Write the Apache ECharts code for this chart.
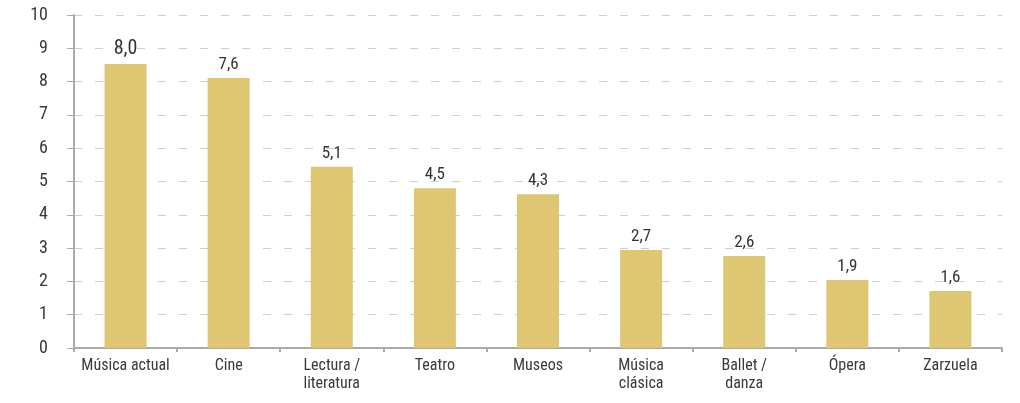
<!DOCTYPE html>
<html>
<head>
<meta charset="utf-8">
<script src="https://cdn.jsdelivr.net/npm/echarts@6/dist/echarts.min.js"></script>
<style>
  html, body { margin: 0; padding: 0; background: #fff; }
  #chart { width: 1020px; height: 403px; }
</style>
</head>
<body>
<div id="chart"></div>
<script>
// categorías
const categorias = ['Música actual', 'Cine', 'Lectura /\nliteratura', 'Teatro', 'Museos',
  'Música\nclásica', 'Ballet /\ndanza', 'Ópera', 'Zarzuela']
// altura de las barras tal como aparecen en el gráfico
const valores = [8.53, 8.11, 5.44, 4.80, 4.62, 2.94, 2.76, 2.04, 1.71]
// etiquetas impresas sobre cada barra
const etiquetas = ['8,0', '7,6', '5,1', '4,5', '4,3', '2,7', '2,6', '1,9', '1,6']

const fuente = '"Liberation Sans Narrow", "Roboto Condensed", "DejaVu Sans Condensed", sans-serif'

const myChart = echarts.init(document.getElementById('chart'))

const datos = valores.map((v, i) => {
  const item = { value: v }
  if (i === 0) {
    item.label = { fontSize: 20 } // la primera etiqueta va más grande
  }
  return item
})

const option = {
  animation: false,
  textStyle: { fontFamily: fuente },
  grid: {
    left: 74,
    right: 18,
    top: 15,
    bottom: 55,
    containLabel: false
  },
  xAxis: {
    type: 'category',
    data: categorias,
    axisLine: { lineStyle: { color: '#aaaaaa', width: 2 } },
    axisTick: { show: true, length: 4, lineStyle: { color: '#aaaaaa', width: 2 } },
    axisLabel: {
      interval: 0,
      color: '#3a3a3a',
      fontSize: 16,
      fontFamily: fuente,
      margin: 9,
      lineHeight: 18
    }
  },
  yAxis: {
    type: 'value',
    min: 0,
    max: 10,
    interval: 1,
    axisLine: { show: true, lineStyle: { color: '#aaaaaa', width: 2 } },
    axisTick: { show: true, length: 7, lineStyle: { color: '#aaaaaa', width: 1 } },
    axisLabel: {
      color: '#3a3a3a',
      fontSize: 18,
      fontFamily: fuente,
      margin: 26
    },
    splitLine: {
      lineStyle: {
        type: [8, 13],
        color: '#cfcfcf',
        width: 1
      }
    }
  },
  series: [
    {
      type: 'bar',
      data: datos,
      barWidth: 42,
      itemStyle: { color: '#dfc672' },
      label: {
        show: true,
        position: 'top',
        distance: 5,
        color: '#333333',
        fontSize: 17,
        fontFamily: fuente,
        formatter: (p) => etiquetas[p.dataIndex]
      }
    }
  ]
}

myChart.setOption(option)
</script>
</body>
</html>
